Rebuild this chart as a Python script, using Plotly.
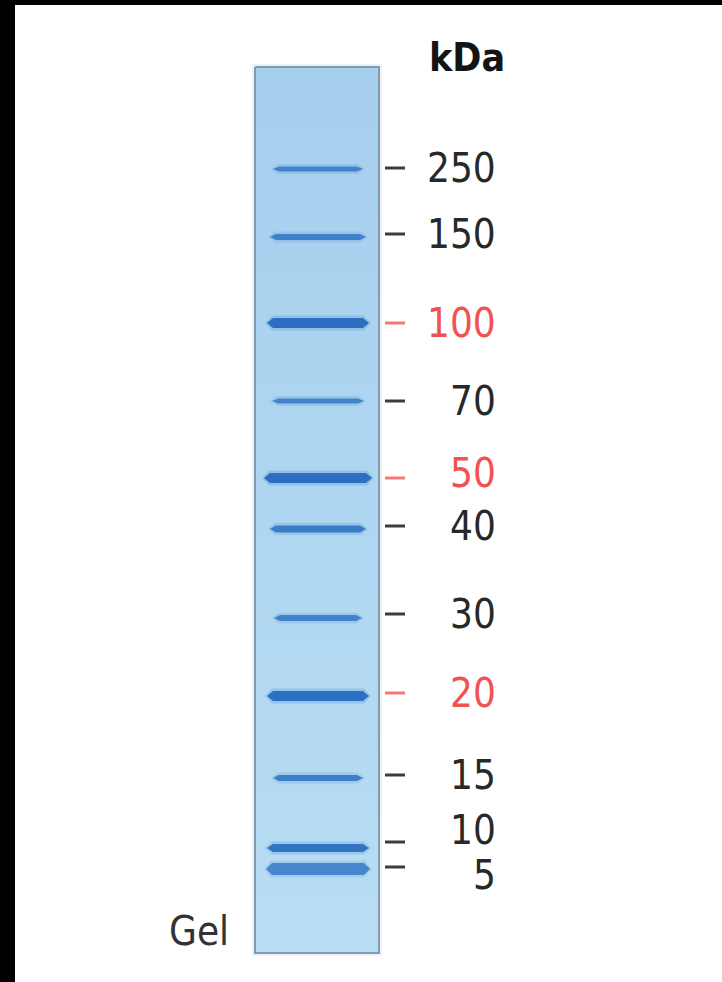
import plotly.graph_objects as go

# ---- data ----
kda = [250, 150, 100, 70, 50, 40, 30, 20, 15, 10, 5]
band_migration = [169, 237, 323, 401, 478, 529, 618, 696, 778, 848, 869]   # band centre (px from top of image)
marker_migration = [168, 234, 323, 401, 478, 526, 614, 693, 775, 842, 867]  # tick position beside lane
band_intensity = [0.55, 0.6, 1.0, 0.55, 1.0, 0.7, 0.6, 1.0, 0.65, 0.85, 0.5]
reference_bands = [100, 50, 20]   # shown in red

# ---- styling ----
W, H = 722, 982
LANE_X0, LANE_X1, LANE_Y0, LANE_Y1 = 255, 379, 67, 953
band_half_width = {250: 45, 150: 48, 100: 51, 70: 46, 50: 54, 40: 48, 30: 44,
                   20: 51, 15: 45, 10: 51, 5: 52}
band_thick = {250: 5, 150: 6, 100: 10, 70: 5, 50: 10, 40: 7, 30: 6, 20: 10, 15: 6, 10: 8, 5: 12}
label_offset = {10: -12, 5: 8, 50: -5}
FONT_NUM = "DejaVu Sans Condensed, Liberation Sans Narrow, sans-serif"
RED = "rgb(240,82,82)"
DARK = "rgb(40,40,40)"

fig = go.Figure()

# lane shadow + lane body with vertical gradient
fig.add_shape(type="rect", x0=LANE_X0 - 3, x1=LANE_X1 + 3, y0=LANE_Y0 - 3, y1=LANE_Y1 + 3,
              line=dict(width=0), fillcolor="rgba(150,160,170,0.15)", layer="below")
fig.add_trace(go.Scatter(
    x=[LANE_X0, LANE_X1, LANE_X1, LANE_X0, LANE_X0],
    y=[LANE_Y0, LANE_Y0, LANE_Y1, LANE_Y1, LANE_Y0],
    mode="lines", fill="toself",
    line=dict(color="rgb(128,155,178)", width=2),
    fillgradient=dict(type="vertical", start=LANE_Y0, stop=LANE_Y1,
                      colorscale=[[0, "rgb(166,207,238)"], [0.5, "rgb(175,214,241)"],
                                  [1, "rgb(184,221,244)"]]),
    hoverinfo="skip", showlegend=False))


def lens(cx, y, hw, t, taper):
    xs = [cx - hw, cx - hw + taper, cx + hw - taper, cx + hw, cx + hw - taper, cx - hw + taper, cx - hw]
    ys = [y, y - t / 2, y - t / 2, y, y + t / 2, y + t / 2, y]
    return xs, ys


# bands
for k, y, inten in zip(kda, band_migration, band_intensity):
    cx = (LANE_X0 + LANE_X1) / 2 + 1
    hw = band_half_width[k]
    t = band_thick[k]
    # soft halo
    xs, ys = lens(cx, y, hw + 2, t + 5, 7)
    fig.add_trace(go.Scatter(x=xs, y=ys, mode="lines", fill="toself", line=dict(width=0),
                             fillcolor="rgba(80,145,210,%.2f)" % (0.2 * inten + 0.1),
                             hoverinfo="skip", showlegend=False))
    # core
    r = int(95 - 52 * inten); g = int(156 - 44 * inten); b = int(218 - 26 * inten)
    xs, ys = lens(cx, y, hw, t, 6)
    fig.add_trace(go.Scatter(x=xs, y=ys, mode="lines", fill="toself", line=dict(width=0),
                             fillcolor="rgb(%d,%d,%d)" % (r, g, b),
                             hoverinfo="skip", showlegend=False))

# ticks and labels
for k, ym in zip(kda, marker_migration):
    col = RED if k in reference_bands else DARK
    tick_col = "rgb(244,120,120)" if k in reference_bands else "rgb(60,60,60)"
    fig.add_trace(go.Scatter(x=[385, 405], y=[ym, ym], mode="lines",
                             line=dict(color=tick_col, width=3),
                             hoverinfo="skip", showlegend=False))
    fig.add_annotation(x=498, y=ym + label_offset.get(k, 0), text=str(k), showarrow=False,
                       xanchor="right", yanchor="middle",
                       font=dict(family=FONT_NUM, size=40, color=col))

fig.add_annotation(x=507, y=57, text="<b>kDa</b>", showarrow=False, xanchor="right",
                   yanchor="middle", font=dict(family=FONT_NUM, size=39, color="rgb(20,20,20)"))
fig.add_annotation(x=231, y=931, text="Gel", showarrow=False, xanchor="right",
                   yanchor="middle", font=dict(family=FONT_NUM, size=40, color="rgb(50,50,50)"))

# black frame on left and top
fig.add_shape(type="rect", xref="paper", yref="paper", x0=0, x1=15 / W, y0=0, y1=1,
              fillcolor="black", line=dict(width=0))
fig.add_shape(type="rect", xref="paper", yref="paper", x0=0, x1=1, y0=1 - 5 / H, y1=1,
              fillcolor="black", line=dict(width=0))

fig.update_layout(width=W, height=H, margin=dict(l=0, r=0, t=0, b=0),
                  paper_bgcolor="white", plot_bgcolor="white", showlegend=False)
fig.update_xaxes(range=[0, W], visible=False, fixedrange=True)
fig.update_yaxes(range=[H, 0], visible=False, fixedrange=True)
fig.write_html("out.html", config={"displayModeBar": False},
               post_script="document.body.style.margin='0';document.body.style.overflow='hidden';")
